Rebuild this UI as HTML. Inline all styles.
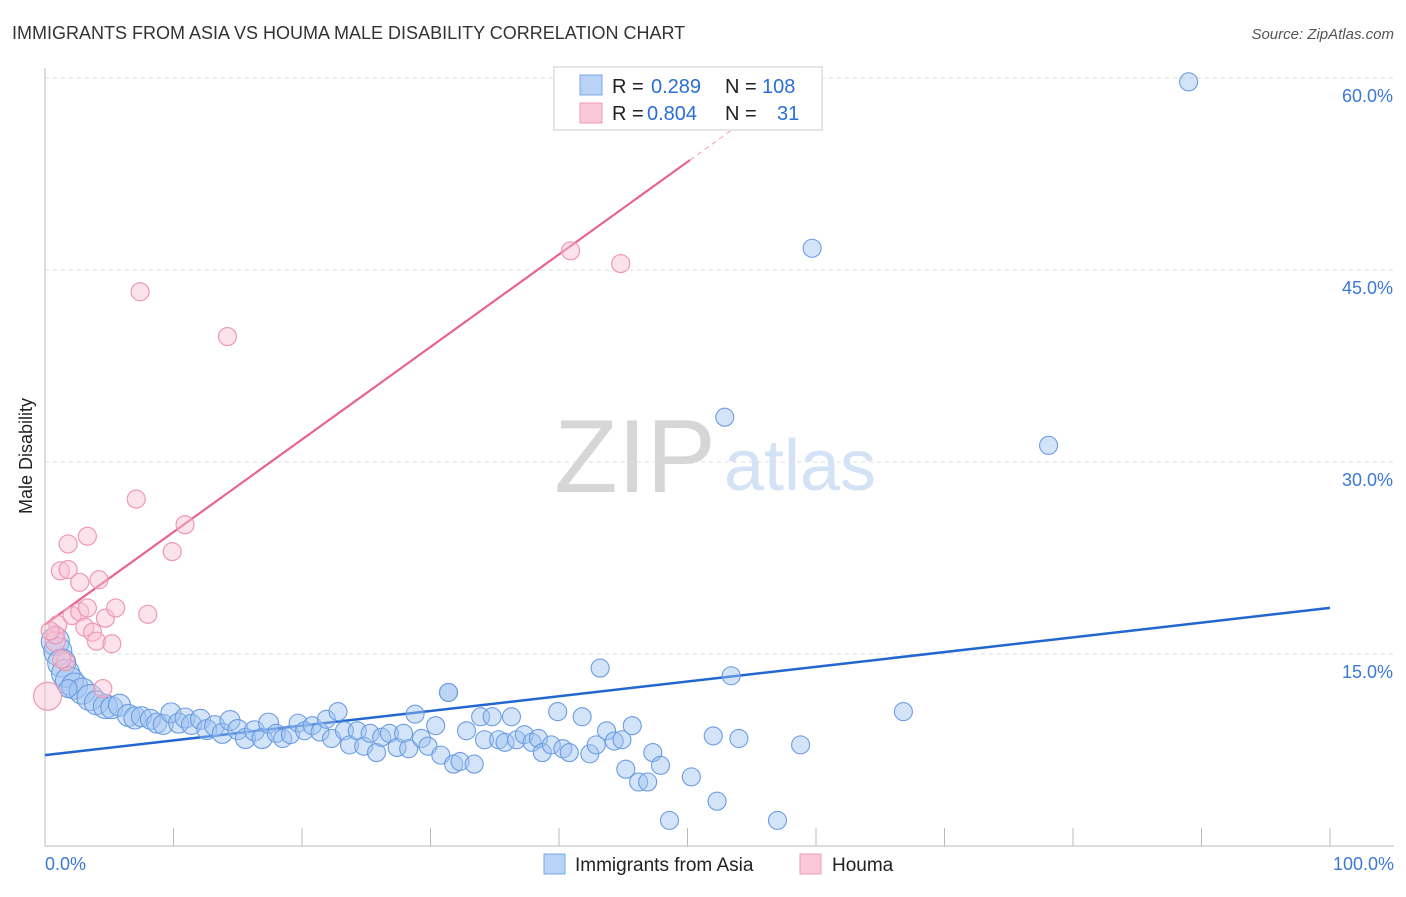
<!DOCTYPE html>
<html><head><meta charset="utf-8"><style>
body{margin:0;background:#fff;font-family:"Liberation Sans",sans-serif;}
svg text{font-family:"Liberation Sans",sans-serif;}
</style></head><body>
<svg id="c" width="1406" height="892">
<text x="12" y="39" font-size="18" fill="#333">IMMIGRANTS FROM ASIA VS HOUMA MALE DISABILITY CORRELATION CHART</text>
<text x="1394" y="39" font-size="15" fill="#555" font-style="italic" text-anchor="end">Source: ZipAtlas.com</text>
<text x="32" y="456" font-size="18" fill="#222" transform="rotate(-90 32 456)" text-anchor="middle">Male Disability</text>
<g><text x="635" y="492" font-size="104" fill="#d6d6d6" font-family="Liberation Serif" text-anchor="middle">ZIP</text><text x="800" y="490" font-size="72" fill="#d4e2f5" text-anchor="middle">atlas</text></g>
<g id="grid"></g><g id="axes"></g><g id="lines"></g><g id="pts"></g>
<g>
<rect x="554" y="67" width="268" height="63" fill="#fff" stroke="#ddd" stroke-width="1.5"/>
<rect x="580" y="75" width="22" height="20" fill="#b8d3f5" stroke="#7aa8e8"/>
<rect x="580" y="103" width="22" height="20" fill="#fac8d8" stroke="#f09ab6"/>
<text x="612" y="93" font-size="20" fill="#222">R = <tspan fill="#2a6fd6" x="651">0.289</tspan><tspan x="725" fill="#222">N = </tspan><tspan fill="#2a6fd6" x="762">108</tspan></text>
<text x="612" y="120" font-size="20" fill="#222">R = <tspan fill="#2a6fd6" x="647">0.804</tspan><tspan x="725" fill="#222">N = </tspan><tspan fill="#2a6fd6" x="777">31</tspan></text>
</g>
<g>
<rect x="544" y="854" width="21" height="20" fill="#b8d3f5" stroke="#7aa8e8"/>
<text x="575" y="871" font-size="19" fill="#222">Immigrants from Asia</text>
<rect x="800" y="854" width="21" height="20" fill="#fac8d8" stroke="#f09ab6"/>
<text x="832" y="871" font-size="19" fill="#222">Houma</text>
</g>
</svg>
<script>
const yTicks=[15,30,45,60];
const yTickLabels=["15.0%","30.0%","45.0%","60.0%"];
const xTickVals=[0,10,20,30,40,50,60,70,80,90,100];
const asiaX=[89,59.7,52.9,78.1,43.2,53.4,66.8,31.4,0.8,1,1.3,1.6,1.9,2.3,2.9,3.5,4,4.7,5.2,5.8,6.5,7,7.5,8.2,8.7,9.2,9.8,10.4,10.9,11.4,12.1,12.6,13.2,13.8,14.4,15,15.6,16.3,16.9,17.4,18,18.5,19.1,19.7,20.2,20.8,21.4,21.9,22.3,22.8,23.3,23.7,24.3,24.8,25.3,25.8,26.2,26.8,27.4,27.9,28.3,28.8,29.3,29.8,30.4,30.8,31.4,31.8,32.3,32.8,33.4,33.9,34.2,34.8,35.3,35.8,36.3,36.7,37.3,37.9,38.4,38.7,39.4,39.9,40.3,40.8,41.8,42.4,42.9,43.7,44.3,44.9,45.2,45.7,46.2,46.9,47.3,47.9,48.6,50.3,52,52.3,54,57,58.8,1.8];
const asiaY=[59.7,46.7,33.5,31.3,13.9,13.3,10.5,12,16,15.2,14.3,13.5,12.9,12.5,12.1,11.6,11.2,10.9,10.8,11,10.2,10,10.1,9.9,9.6,9.5,10.4,9.6,10,9.5,9.9,9.1,9.4,8.8,9.8,9.1,8.4,9,8.4,9.6,8.8,8.4,8.7,9.6,9,9.4,8.9,9.9,8.4,10.5,9,7.9,9,7.8,8.8,7.3,8.5,8.8,7.7,8.8,7.6,10.3,8.4,7.8,9.4,7.1,12,6.4,6.6,9,6.4,10.1,8.3,10.1,8.3,8.1,10.1,8.3,8.7,8.1,8.4,7.3,7.9,10.5,7.6,7.3,10.1,7.2,7.9,9,8.2,8.3,6,9.4,5,5,7.3,6.3,2,5.4,8.6,3.5,8.4,2,7.9,12.3];
const asiaR=[9,9,9,9,9,9,9,9,14,14,14,14,14,13,13,13,12,12,11,11,11,11,10,10,10,10,10,10,10,10,10,10,10,10,10,10,10,10,10,10,9,9,9,9,9,9,9,9,9,9,9,9,9,9,9,9,9,9,9,9,9,9,9,9,9,9,9,9,9,9,9,9,9,9,9,9,9,9,9,9,9,9,9,9,9,9,9,9,9,9,9,9,9,9,9,9,9,9,9,9,9,9,9,9,9,9,12];
const houmaX=[0.2,0.8,1,0.8,1.2,1.8,1.8,1.6,2.1,2.7,2.7,3.3,3.1,3.3,3.7,4,4.2,4.5,4.7,5.2,5.5,7.1,7.4,8,9.9,10.9,14.2,40.9,44.8,0.4,1.3];
const houmaY=[11.7,16,17.3,16.5,21.5,23.6,21.6,14.4,18,20.6,18.3,24.2,17.1,18.6,16.7,16,20.8,12.3,17.8,15.8,18.6,27.1,43.3,18.1,23,25.1,39.8,46.5,45.5,16.8,14.6];
const houmaR=[14,10,9,9,9,9,9,9,9,9,9,9,9,9,9,9,9,9,9,9,9,9,9,9,9,9,9,9,9,9,9];
const asiaLine=[7.1,18.6];
const houmaLine=[17.3,0.723];
const X=v=>45+v*12.85, Y=v=>846-v*12.8;
const NS="http://www.w3.org/2000/svg";
function mk(t,a,p){const e=document.createElementNS(NS,t);for(const k in a)e.setAttribute(k,a[k]);p.appendChild(e);return e;}
const grid=document.getElementById('grid'),axes=document.getElementById('axes'),lines=document.getElementById('lines'),pts=document.getElementById('pts');
yTicks.forEach((v,i)=>{
 const g=mk('line',{x1:45,x2:1394,y1:Y(v),y2:Y(v),stroke:'#ddd','stroke-dasharray':'4,4'},grid);
 
 
 const t=mk('text',{x:1393,y:Y(v)+24,'font-size':18,fill:'#3b78d8','text-anchor':'end'},axes);t.textContent=yTickLabels[i];
 
 
});
mk('line',{x1:45,x2:45,y1:68,y2:846,stroke:'#bbb'},axes);
mk('line',{x1:45,x2:1394,y1:846,y2:846,stroke:'#bbb'},axes);
xTickVals.forEach(v=>{const l=mk('line',{x1:X(v),x2:X(v),y1:828,y2:846,stroke:'#bbb'},axes);
 
 });
let t0=mk('text',{x:45,y:870,'font-size':18,fill:'#3b78d8'},axes);t0.textContent='0.0%';


let t1=mk('text',{x:1394,y:870,'font-size':18,fill:'#3b78d8','text-anchor':'end'},axes);t1.textContent='100.0%';


asiaX.forEach((x,i)=>{const c=mk('circle',{cx:X(x),cy:Y(asiaY[i]),r:asiaR[i],fill:'rgba(160,196,240,0.45)',stroke:'#6a9ce2','stroke-width':1.1},pts);
 
 });
houmaX.forEach((x,i)=>{const c=mk('circle',{cx:X(x),cy:Y(houmaY[i]),r:houmaR[i],fill:'rgba(248,190,210,0.45)',stroke:'#ee98b4','stroke-width':1.2},pts);
 
 });
const bl=mk('line',{x1:X(0),y1:Y(asiaLine[0]),x2:X(100),y2:Y(asiaLine[1]),stroke:'#2266d0','stroke-width':2.5},lines);


const hp=x=>houmaLine[0]+houmaLine[1]*x;
const pl=mk('line',{x1:X(0),y1:Y(hp(0)),x2:X(50.2),y2:Y(hp(50.2)),stroke:'#e8648e','stroke-width':2.2},lines);


const pd=mk('line',{x1:X(50.2),y1:Y(hp(50.2)),x2:X(57.5),y2:Y(hp(57.5)),stroke:'#f0a0b8','stroke-width':1,'stroke-dasharray':'5,4'},lines);


</script>
</body></html>
